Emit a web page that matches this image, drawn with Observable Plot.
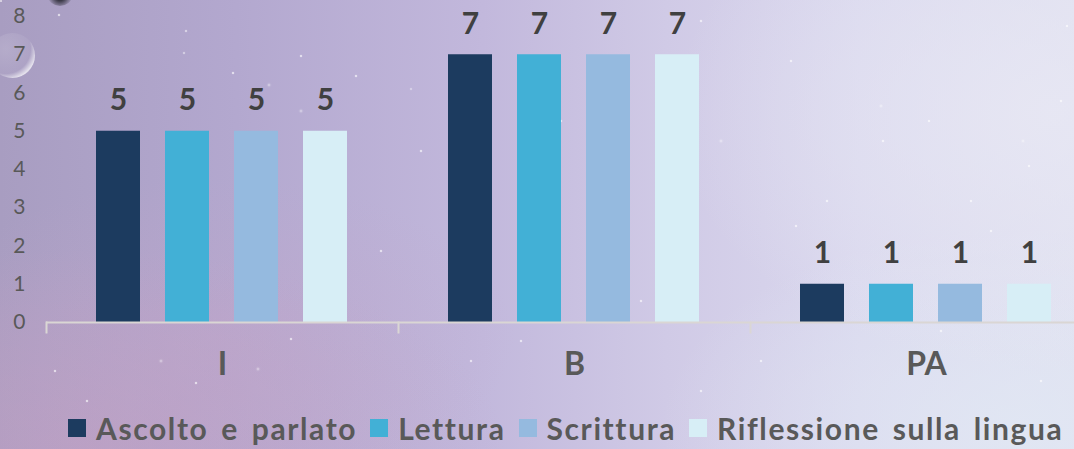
<!DOCTYPE html>
<html>
<head>
<meta charset="utf-8">
<script src="https://cdn.jsdelivr.net/npm/d3@7"></script>
<script src="https://cdn.jsdelivr.net/npm/@observablehq/plot@0.6"></script>
<style>
  html, body { margin: 0; padding: 0; width: 1074px; height: 449px; overflow: hidden; }
  body {
    font-family: Lato, "Open Sans", sans-serif;
    background:
      radial-gradient(ellipse 420px 200px at 8% 100%, rgba(200,160,195,0.5), rgba(200,160,195,0) 100%),
      radial-gradient(ellipse 300px 160px at 20% 75%, rgba(195,165,200,0.4), rgba(195,165,200,0) 100%),
      radial-gradient(ellipse 380px 260px at 98% 25%, rgba(232,232,244,0.8), rgba(232,232,244,0) 100%),
      radial-gradient(ellipse 360px 200px at 95% 95%, rgba(225,232,244,0.8), rgba(225,232,244,0) 100%),
      linear-gradient(90deg, #a89dc1 0%, #b3a8cf 22%, #c2b8dc 45%, #d0cae6 62%, #dad8ee 80%, #e0e0f0 100%);
    position: relative;
  }
  #stars { position: absolute; left: 0; top: 0; width: 2px; height: 2px; border-radius: 50%;
    background: rgba(255,255,255,0.7);
    box-shadow: 58px 14px 1px #fff, 185px 30px 1px rgba(255,255,255,.8), 232px 72px 1px #fff, 268px 84px 2px #fff,
      183px 52px 1px rgba(255,255,255,.7), 300px 55px 1px #fff, 355px 75px 1px #fff, 410px 88px 1px rgba(255,255,255,.6),
      300px 110px 2px #fff, 380px 250px 1px #fff, 160px 360px 2px #fff, 221px 365px 1px #fff, 195px 382px 1px #fff,
      257px 368px 2px #fff, 290px 338px 1px #fff, 86px 400px 1px #fff, 54px 370px 1px #fff, 700px 20px 1px #fff,
      790px 60px 1px #fff, 880px 105px 2px #fff, 928px 120px 1px #fff, 882px 140px 1px #fff, 1022px 140px 2px #fff,
      1066px 25px 1px #fff, 1028px 165px 1px #fff, 970px 200px 1px #fff, 826px 200px 1px #fff, 795px 225px 1px #fff,
      990px 230px 1px #fff, 1060px 100px 1px #fff, 612px 270px 1px #fff, 640px 300px 1px #fff, 520px 340px 1px #fff,
      470px 360px 1px #fff, 760px 360px 1px #fff, 940px 330px 1px #fff, 1040px 380px 1px #fff, 700px 390px 1px #fff,
      420px 150px 1px #fff, 560px 120px 1px #fff, 620px 180px 1px #fff, 720px 140px 2px #fff;
  }
  #bubble { position: absolute; left: -10px; top: 33px; width: 45px; height: 45px; border-radius: 50%;
    background: radial-gradient(circle at 35% 35%, rgba(255,255,255,0.15), rgba(255,255,255,0.05) 60%, rgba(255,255,255,0.7) 75%, rgba(120,110,140,0.3) 85%, rgba(0,0,0,0) 100%); }
  #dark { position: absolute; left: 48px; top: -14px; width: 24px; height: 20px; border-radius: 50%;
    background: radial-gradient(circle, #3c3a48 30%, rgba(60,58,72,0.2) 70%, rgba(0,0,0,0) 100%); }
  #chart { position: relative; }
  #chart svg { display: block; overflow: visible; background: transparent; }
  #legend { position: relative; height: 54px; display: flex; align-items: center; padding-left: 68px; box-sizing: border-box; padding-top: 12px; }
  .item { display: flex; align-items: center; margin-right: 13px; }
  .sw { width: 18px; height: 18px; margin-right: 10px; }
  .lab { font-family: Lato, sans-serif; font-weight: bold; font-size: 30px; color: #595959; line-height: 1; letter-spacing: 1.6px; word-spacing: 4px; white-space: nowrap; }
</style>
</head>
<body>
<div id="stars"></div>
<div id="bubble"></div>
<div id="dark"></div>
<div id="chart"></div>
<div id="legend"></div>
<script>
const groups = ["I", "B", "PA"];
const series = ["Ascolto e parlato", "Lettura", "Scrittura", "Riflessione sulla lingua"];
const colors = ["#1c3b5f", "#42b0d6", "#95badf", "#d7eef6"];
const valuesI = [5, 5, 5, 5];
const valuesB = [7, 7, 7, 7];
const valuesPA = [1, 1, 1, 1];
const yTicks = [0, 1, 2, 3, 4, 5, 6, 7, 8];

const byGroup = {I: valuesI, B: valuesB, PA: valuesPA};
const data = groups.flatMap(g => series.map((s, i) => ({group: g, series: s, value: byGroup[g][i]})));

const chart = Plot.plot({
  width: 1074,
  height: 395,
  marginTop: 16,
  marginBottom: 73,
  marginLeft: 46,
  marginRight: -28,
  style: {background: "transparent", overflow: "visible"},
  fx: {domain: groups, padding: 0, axis: null},
  x: {domain: series, paddingInner: 0.357, paddingOuter: 0.693, axis: null},
  y: {domain: [0, 8], axis: null},
  color: {domain: series, range: colors},
  marks: [
    Plot.axisY({ticks: yTicks, tickSize: 0, tickPadding: 21, fontSize: 21, fill: "#595959", stroke: null, label: null, fontFamily: "Lato"}),
    Plot.axisFx({anchor: "bottom", tickSize: 0, tickPadding: 30, fontSize: 32, fontWeight: "bold", fill: "#595959", label: null, fontFamily: "Lato"}),
    Plot.barY(data, {fx: "group", x: "series", y: "value", fill: "series"}),
    Plot.text(data, {fx: "group", x: "series", y: "value", text: d => String(d.value), lineAnchor: "bottom", dy: -21, fontSize: 30, fontWeight: "bold", fill: "#404040", fontFamily: "Lato"}),
    Plot.ruleY([0], {stroke: "#dad6d4", strokeWidth: 2}),
    Plot.frame({anchor: "left", insetTop: 306, insetBottom: -10, stroke: "#dad6d4", strokeWidth: 2})
  ]
});
document.getElementById("chart").appendChild(chart);

const legend = document.getElementById("legend");
series.forEach((s, i) => {
  const item = document.createElement("div");
  item.className = "item";
  const sw = document.createElement("div");
  sw.className = "sw";
  sw.style.background = colors[i];
  const lab = document.createElement("span");
  lab.className = "lab";
  lab.textContent = s;
  item.appendChild(sw);
  item.appendChild(lab);
  legend.appendChild(item);
});
</script>
</body>
</html>
